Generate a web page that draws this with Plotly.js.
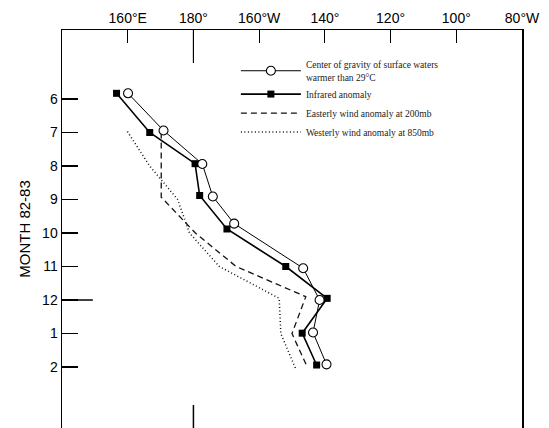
<!DOCTYPE html>
<html>
<head>
<meta charset="utf-8">
<script src="https://cdn.plot.ly/plotly-3.0.1.min.js"></script>
<style>
  html, body { margin: 0; padding: 0; overflow: hidden; background: #fff; }
  #chart { width: 549px; height: 428px; }
</style>
</head>
<body>
<div id="chart"></div>
<script>
// Month axis: position 0 = June 1982 ... 8 = February 1983
const monthTickVals = [0, 1, 2, 3, 4, 5, 6, 7, 8];
const monthTickText = ["6", "7", "8", "9", "10", "11", "12", "1", "2"];

// Longitude axis (degrees east)
const lonTickVals = [160, 180, 200, 220, 240, 260, 280];
const lonTickText = ["160°E", "180°", "160°W", "140°", "120°", "100°", "80°W"];

// Center of gravity of surface waters warmer than 29°C
const sstMonth = [-0.17, 0.94, 1.94, 2.91, 3.72, 5.05, 6.0, 6.97, 7.92];
const sstLon   = [160.1, 170.9, 182.7, 185.9, 192.4, 213.4, 218.4, 216.4, 220.5];

// Infrared anomaly
const irMonth = [-0.17, 1.0, 1.93, 2.88, 3.88, 5.0, 5.95, 6.99, 7.94];
const irLon   = [156.6, 166.7, 180.5, 181.9, 190.2, 208.1, 220.7, 213.1, 217.5];

// Easterly wind anomaly at 200mb
const east200Month = [1.0, 2.0, 2.93, 4.0, 5.0, 5.9, 7.0, 7.95];
const east200Lon   = [170.2, 170.2, 170.2, 180.6, 193.0, 214.2, 210.0, 214.4];

// Westerly wind anomaly at 850mb
const west850Month = [0.97, 2.0, 3.0, 4.0, 5.0, 5.95, 7.0, 8.05];
const west850Lon   = [159.9, 166.7, 175.2, 178.8, 187.9, 206.1, 206.6, 211.1];

const traces = [
  {
    x: east200Lon, y: east200Month, type: "scatter", mode: "lines",
    name: "Easterly wind anomaly at 200mb", legendrank: 3,
    line: { color: "#111", width: 1.3, dash: "6px,4px" }
  },
  {
    x: west850Lon, y: west850Month, type: "scatter", mode: "lines",
    name: "Westerly wind anomaly at 850mb", legendrank: 4,
    line: { color: "#111", width: 1.5, dash: "1px,2.5px" }
  },
  {
    x: irLon, y: irMonth, type: "scatter", mode: "lines+markers",
    name: "Infrared anomaly", legendrank: 2,
    line: { color: "#000", width: 1.6 },
    marker: { symbol: "square", size: 7, color: "#000" }
  },
  {
    x: sstLon, y: sstMonth, type: "scatter", mode: "lines+markers",
    name: "Center of gravity of surface waters<br>warmer than 29°C", legendrank: 1,
    line: { color: "#000", width: 1 },
    marker: { symbol: "circle", size: 9, color: "#fff", line: { color: "#000", width: 1.1 } }
  }
];

const layout = {
  width: 549, height: 428,
  margin: { l: 62, r: 27, t: 30, b: 0 },
  paper_bgcolor: "#fff", plot_bgcolor: "#fff",
  font: { family: "Liberation Sans, Arial, sans-serif", color: "#000", size: 14 },
  showlegend: true,
  legend: {
    x: 0.378, y: 0.945, xanchor: "left", yanchor: "top",
    bgcolor: "rgba(0,0,0,0)", borderwidth: 0,
    font: { family: "Liberation Serif, Times New Roman, serif", size: 9.5, color: "#222" },
    itemwidth: 60, tracegroupgap: 0
  },
  xaxis: {
    side: "top", range: [140, 280], showgrid: false, zeroline: false,
    tickmode: "array", tickvals: lonTickVals, ticktext: lonTickText,
    ticks: "inside", ticklen: 13, tickwidth: 1, tickcolor: "#000",
    showline: true, linecolor: "#000", linewidth: 1, mirror: false,
    tickfont: { size: 14, family: "Liberation Sans, Arial, sans-serif" }
  },
  yaxis: {
    range: [9.82, -2.06], showgrid: false, zeroline: false,
    tickmode: "array", tickvals: monthTickVals, ticktext: monthTickText,
    ticks: "inside", ticklen: 16, tickwidth: 1.2, tickcolor: "#000",
    showline: true, linecolor: "#000", linewidth: 1.5, mirror: true,
    tickfont: { size: 14, family: "Liberation Sans, Arial, sans-serif" },
    title: { text: "MONTH 82-83", font: { size: 15, family: "Liberation Sans, Arial, sans-serif" }, standoff: 8 }
  },
  shapes: [
    { type: "line", xref: "x", yref: "paper", x0: 180, x1: 180, y0: 1, y1: 0.917, line: { color: "#000", width: 1.2 } },
    { type: "line", xref: "x", yref: "paper", x0: 180, x1: 180, y0: 0, y1: 0.058, line: { color: "#000", width: 1.5 } },
    { type: "line", xref: "paper", yref: "y", x0: 0, x1: 0.067, y0: 6, y1: 6, line: { color: "#000", width: 1.5 } }
  ]
};

Plotly.newPlot("chart", traces, layout, { displayModeBar: false, staticPlot: true });
</script>
</body>
</html>
